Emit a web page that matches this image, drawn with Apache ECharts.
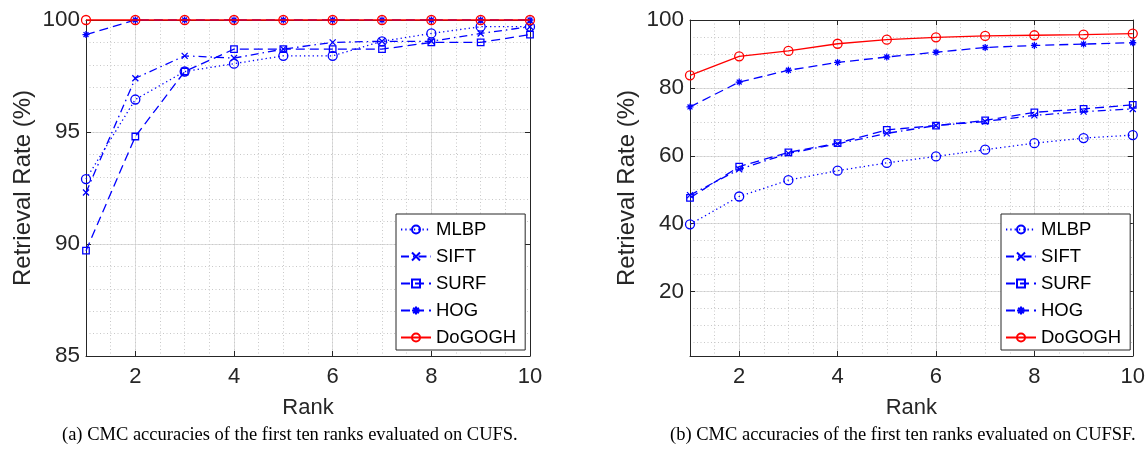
<!DOCTYPE html>
<html><head><meta charset="utf-8">
<script src="https://cdn.jsdelivr.net/npm/echarts@6/dist/echarts.min.js"></script>
<style>html,body{margin:0;padding:0;background:#fff}#c{width:1148px;height:450px}</style>
</head><body><div id="c"></div>
<script>
// ---- data ----
const ranks = [1, 2, 3, 4, 5, 6, 7, 8, 9, 10];
const seriesNames = ['MLBP', 'SIFT', 'SURF', 'HOG', 'DoGOGH'];
const xTickLabels = [2, 4, 6, 8, 10];
const yTicksCUFS = [85, 90, 95, 100];
const yTicksCUFSF = [20, 40, 60, 80, 100];
const yMinorCUFSF = [5, 10, 15, 20, 25, 30, 35, 40, 45, 50, 55, 60, 65, 70, 75, 80, 85, 90, 95, 100];
// (a) CUFS
const cufsMLBP   = [92.9, 96.45, 97.7, 98.05, 98.4, 98.4, 99.05, 99.4, 99.7, 99.7];
const cufsSIFT   = [92.3, 97.4, 98.4, 98.3, 98.7, 99.0, 99.05, 99.05, 99.4, 99.7];
const cufsSURF   = [89.7, 94.8, 97.7, 98.7, 98.7, 98.7, 98.7, 99.0, 99.0, 99.35];
const cufsHOG    = [99.35, 100, 100, 100, 100, 100, 100, 100, 100, 100];
const cufsDoGOGH = [100, 100, 100, 100, 100, 100, 100, 100, 100, 100];
// (b) CUFSF
const cufsfMLBP   = [39.8, 48.0, 52.8, 55.6, 57.9, 59.8, 61.8, 63.7, 65.2, 66.1];
const cufsfSIFT   = [48.4, 56.0, 60.7, 63.5, 66.6, 68.9, 70.1, 71.9, 73.0, 73.8];
const cufsfSURF   = [47.6, 56.8, 61.0, 63.7, 67.6, 68.9, 70.4, 72.8, 73.8, 75.0];
const cufsfHOG    = [74.4, 81.7, 85.2, 87.5, 89.1, 90.5, 91.9, 92.5, 92.9, 93.3];
const cufsfDoGOGH = [83.7, 89.3, 90.9, 93.0, 94.2, 94.9, 95.3, 95.5, 95.7, 96.0];
const captions = [
  '(a) CMC accuracies of the first ten ranks evaluated on CUFS.',
  '(b) CMC accuracies of the first ten ranks evaluated on CUFSF.'
];
// ---- styles ----
const FONT = '"Liberation Sans", Arial, Helvetica, sans-serif';
const AX = '#262626';
const BLUE = '#0000ff', RED = '#ff0000';
const MAJ = '#dfdfdf', MIN = '#c8c8c8';
const styles = {
  MLBP:   {color: BLUE, type: [1.3, 3], symbol: 'circle', size: 9},
  SIFT:   {color: BLUE, type: [8, 4, 1.5, 4], symbol: 'path://M0,0L10,10M10,0L0,10', size: 6},
  SURF:   {color: BLUE, type: [9, 5], symbol: 'rect', size: 6.5},
  HOG:    {color: BLUE, type: [9, 5], symbol: 'path://M5,0L5,10M0,5L10,5M1.5,1.5L8.5,8.5M8.5,1.5L1.5,8.5', size: 7},
  DoGOGH: {color: RED, type: 'solid', symbol: 'circle', size: 9}
};
const grids = [
  {left: 86, right: 618, top: 20, bottom: 94},
  {left: 690, right: 14, top: 20, bottom: 94}
];
const xAxes = [], yAxes = [];
function addX(g) {
  const base = {type: 'value', gridIndex: g, min: 1, max: 10};
  xAxes.push(Object.assign({}, base, {interval: 1, position: 'bottom',
    axisLine: {show: true, onZero: false, lineStyle: {color: AX, width: 1}},
    axisTick: {show: true, inside: true, length: 5, customValues: xTickLabels, lineStyle: {color: AX}},
    axisLabel: {customValues: xTickLabels, fontSize: 22, color: AX, fontFamily: FONT, margin: 10},
    splitLine: {show: true, lineStyle: {color: MAJ, width: 1}},
    name: 'Rank', nameLocation: 'middle', nameGap: 41,
    nameTextStyle: {fontSize: 22, color: AX, fontFamily: FONT}}));
  xAxes.push(Object.assign({}, base, {interval: 1, position: 'top',
    axisLine: {show: true, onZero: false, lineStyle: {color: AX, width: 1}},
    axisTick: {show: true, inside: true, length: 5, customValues: xTickLabels, lineStyle: {color: AX}},
    axisLabel: {show: false}, splitLine: {show: false}}));
  xAxes.push(Object.assign({}, base, {interval: 0.5, position: 'bottom',
    axisLine: {show: false}, axisTick: {show: false}, axisLabel: {show: false},
    splitLine: {show: true, lineStyle: {color: MIN, width: 1, type: [1, 2.5]}}}));
}
function addY(g, min, max, ticks, minorOpt) {
  const base = {type: 'value', gridIndex: g, min: min, max: max};
  yAxes.push(Object.assign({}, base, {position: 'left',
    axisLine: {show: true, onZero: false, lineStyle: {color: AX, width: 1}},
    axisTick: {show: true, inside: true, length: 5, customValues: ticks, lineStyle: {color: AX}},
    axisLabel: {customValues: ticks, fontSize: 22.5, color: AX, fontFamily: FONT, margin: 6},
    splitLine: {show: true, lineStyle: {color: MAJ, width: 1}},
    name: 'Retrieval Rate (%)', nameLocation: 'middle', nameGap: 51,
    nameTextStyle: {fontSize: 24, color: AX, fontFamily: FONT}}));
  yAxes.push(Object.assign({}, base, {position: 'right',
    axisLine: {show: true, onZero: false, lineStyle: {color: AX, width: 1}},
    axisTick: {show: true, inside: true, length: 5, customValues: ticks, lineStyle: {color: AX}},
    axisLabel: {show: false}, splitLine: {show: false}}));
  yAxes.push(Object.assign({}, base, minorOpt, {position: 'left',
    axisLine: {show: false}, axisLabel: {show: false},
    splitLine: {show: true, lineStyle: {color: MIN, width: 1, type: [1, 2.5]}}}));
}
addX(0); addY(0, 85, 100, yTicksCUFS, {interval: 1, axisTick: {show: false}});
addX(1); addY(1, 1, 100, yTicksCUFSF, {axisTick: {show: false, customValues: yMinorCUFSF}});

const dataSets = [
  [cufsMLBP, cufsSIFT, cufsSURF, cufsHOG, cufsDoGOGH],
  [cufsfMLBP, cufsfSIFT, cufsfSURF, cufsfHOG, cufsfDoGOGH]
];
const series = [];
dataSets.forEach((set, g) => {
  set.forEach((vals, k) => {
    const nm = seriesNames[k], st = styles[nm];
    series.push({
      name: nm, type: 'line', xAxisIndex: g * 3, yAxisIndex: g * 3,
      data: ranks.map((r, i) => [r, vals[i]]),
      symbol: st.symbol, symbolSize: st.size, showAllSymbol: true,
      lineStyle: {color: st.color, width: 1.3, type: st.type},
      itemStyle: {color: 'rgba(255,255,255,0)', borderColor: st.color, borderWidth: 1.3},
      emphasis: {disabled: true}, z: 3 + k, clip: false
    });
  });
});
const legendBase = {
  data: seriesNames, orient: 'vertical', top: 214, itemWidth: 30, itemHeight: 10, itemGap: 8,
  padding: [6, 9, 3, 4], borderColor: AX, borderWidth: 1, backgroundColor: '#fff',
  selectedMode: false, textStyle: {fontSize: 18.5, lineHeight: 18, color: '#000', fontFamily: FONT}
};
const chart = echarts.init(document.getElementById('c'), null, {renderer: 'canvas'});
chart.setOption({
  animation: false,
  backgroundColor: '#fff',
  grid: grids,
  xAxis: xAxes,
  yAxis: yAxes,
  series: series,
  legend: [Object.assign({left: 396}, legendBase), Object.assign({left: 1001}, legendBase)],
  graphic: [
    {type: 'text', left: 62, top: 426, style: {text: captions[0], font: '18.5px "Liberation Serif", "Times New Roman", serif', fill: '#000'}},
    {type: 'text', left: 670, top: 426, style: {text: captions[1], font: '18.5px "Liberation Serif", "Times New Roman", serif', fill: '#000'}}
  ]
});
</script></body></html>
